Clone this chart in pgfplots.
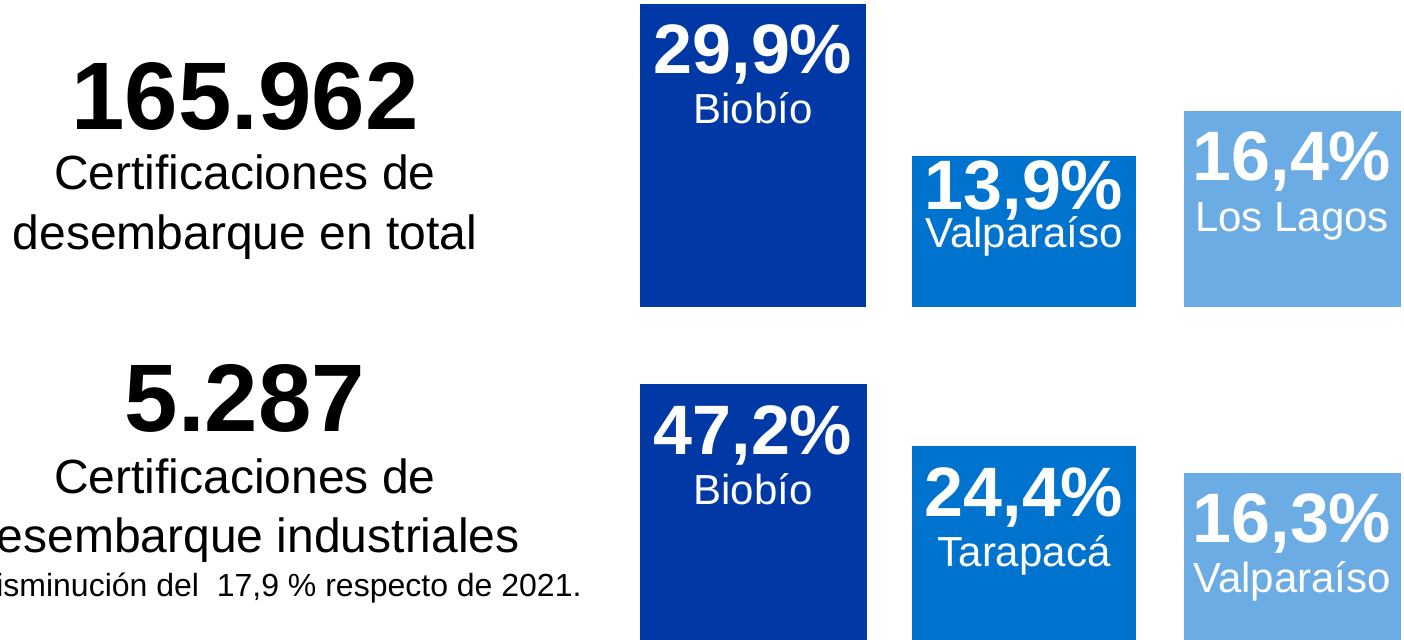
\documentclass[border=0pt]{standalone}
\usepackage{fontspec}
\setmainfont{Liberation Sans}
\usepackage{pgfplots}
\pgfplotsset{compat=1.18}
\definecolor{cDark}{RGB}{0,57,166}
\definecolor{cMid}{RGB}{0,115,207}
\definecolor{cLight}{RGB}{107,172,228}
\newcommand\fs[1]{\fontsize{#1}{#1}\selectfont}
\begin{document}
\begin{tikzpicture}
\useasboundingbox (0,0) rectangle (702pt,320pt);
\clip (0,0) rectangle (702pt,320pt);
% top row: certificaciones en total
\begin{axis}[at={(0pt,166.5pt)}, anchor=origin, scale only axis,
  width=702pt, height=151.5pt, xmin=0, xmax=1404, ymin=0, ymax=303,
  hide axis, clip=false, ybar]
\addplot[fill=cDark, draw=none, bar width=226, bar shift=0pt] coordinates {(753,303)};
\addplot[fill=cMid, draw=none, bar width=224, bar shift=0pt] coordinates {(1024,151)};
\addplot[fill=cLight, draw=none, bar width=217, bar shift=0pt] coordinates {(1292.5,196)};
\end{axis}
% bottom row: certificaciones industriales
\begin{axis}[at={(0pt,0pt)}, anchor=origin, scale only axis,
  width=702pt, height=128pt, xmin=0, xmax=1404, ymin=0, ymax=256,
  hide axis, clip=false, ybar]
\addplot[fill=cDark, draw=none, bar width=227, bar shift=0pt] coordinates {(753.5,256)};
\addplot[fill=cMid, draw=none, bar width=224, bar shift=0pt] coordinates {(1024,194)};
\addplot[fill=cLight, draw=none, bar width=217, bar shift=0pt] coordinates {(1292.5,167)};
\end{axis}
\begin{scope}[x=0.5pt,y=0.5pt, every node/.style={inner sep=0pt, anchor=base}]
\node[font={\fs{48pt}\bfseries}] at (245,510) {165.962};
\node[font={\fs{24pt}}] at (245,450) {Certificaciones de};
\node[font={\fs{24pt}}] at (245,390) {desembarque en total};
\node[font={\fs{48pt}\bfseries}] at (245,208) {5.287};
\node[font={\fs{24pt}}] at (245,146) {Certificaciones de};
\node[font={\fs{24pt}}] at (245,87) {desembarque industriales};
\node[font={\fs{16pt}}, anchor=base east] at (582,43) {Disminución del\ \ 17,9 \% respecto de 2021.};
% bar labels
\begin{scope}[every node/.append style={text=white}]
\node[font={\fs{35pt}\bfseries}] at (753,566) {29,9\%};
\node[font={\fs{21pt}}] at (753,516) {Biobío};
\node[font={\fs{35pt}\bfseries}] at (1024,430) {13,9\%};
\node[font={\fs{21pt}}] at (1024,392) {Valparaíso};
\node[font={\fs{35pt}\bfseries}] at (1292,459) {16,4\%};
\node[font={\fs{21pt}}] at (1292,408) {Los Lagos};
\node[font={\fs{35pt}\bfseries}] at (753,185) {47,2\%};
\node[font={\fs{21pt}}] at (753,135) {Biobío};
\node[font={\fs{35pt}\bfseries}] at (1024,123) {24,4\%};
\node[font={\fs{21pt}}] at (1024,73) {Tarapacá};
\node[font={\fs{35pt}\bfseries}] at (1292,97) {16,3\%};
\node[font={\fs{21pt}}] at (1292,47) {Valparaíso};
\end{scope}
\end{scope}
\end{tikzpicture}
\end{document}
